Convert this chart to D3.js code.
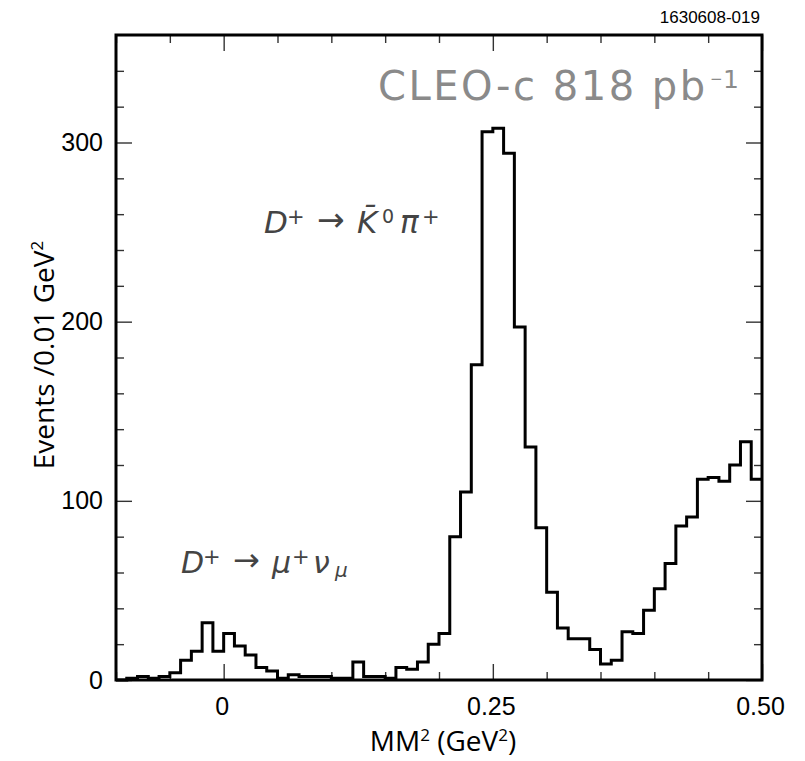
<!DOCTYPE html>
<html>
<head>
<meta charset="utf-8">
<script src="https://cdn.jsdelivr.net/npm/d3@7"></script>
<style>
  body { margin: 0; background: #fff; }
  svg { display: block; }
</style>
</head>
<body>
<script>
// Missing-mass-squared histogram, 0.01 GeV^2 bins starting at -0.10
const binStart = -0.10;
const binWidth = 0.01;
const counts = [
  0, 1, 2, 1, 2, 4, 11, 16, 32, 16,
  26, 19, 14, 7, 5, 1, 3, 2, 2, 2,
  1, 1, 10, 2, 2, 1, 7, 6, 10, 20,
  26, 80, 105, 176, 306, 308, 294, 197, 130, 85,
  49, 29, 23, 23, 17, 9, 11, 27, 26, 39,
  51, 65, 86, 91, 112, 113, 111, 120, 133, 112
];

const xDomain = [-0.10, 0.50];
const yDomain = [0, 360];
const xMajorTicks = [0, 0.25, 0.5];
const xMajorLabels = ["0", "0.25", "0.50"];
const xMinorTicks = [-0.10, -0.05, 0.05, 0.10, 0.15, 0.20, 0.30, 0.35, 0.40, 0.45];
const yMajorTicks = [0, 100, 200, 300];
const yMajorLabels = ["0", "100", "200", "300"];
const yMinorTicks = [20, 40, 60, 80, 120, 140, 160, 180, 220, 240, 260, 280, 320, 340];

const W = 805, H = 761;
const plot = { left: 116, right: 762, top: 35, bottom: 680 };

const svg = d3.select("body").append("svg")
  .attr("width", W).attr("height", H)
  .style("background", "#fff");

const x = d3.scaleLinear().domain(xDomain).range([plot.left, plot.right]);
const y = d3.scaleLinear().domain(yDomain).range([plot.bottom, plot.top]);

const tickColor = "#333";

function styleTicks(g) {
  g.select(".domain").remove();
  g.selectAll(".tick line").attr("stroke", tickColor).attr("stroke-width", 1.4);
  g.selectAll(".tick text").remove();
}

// Inward ticks on all four sides
const sides = [
  { gen: d3.axisBottom, scale: x, tr: `translate(0,${plot.bottom})` },
  { gen: d3.axisTop, scale: x, tr: `translate(0,${plot.top})` },
  { gen: d3.axisLeft, scale: y, tr: `translate(${plot.left},0)` },
  { gen: d3.axisRight, scale: y, tr: `translate(${plot.right},0)` }
];
sides.forEach((s, i) => {
  const isX = i < 2;
  const minors = isX ? xMinorTicks : yMinorTicks;
  const majors = isX ? xMajorTicks : yMajorTicks;
  svg.append("g").attr("transform", s.tr)
    .call(s.gen(s.scale).tickValues(minors).tickSize(-8).tickSizeOuter(0))
    .call(styleTicks);
  svg.append("g").attr("transform", s.tr)
    .call(s.gen(s.scale).tickValues(majors).tickSize(-16).tickSizeOuter(0))
    .call(styleTicks);
});

// Tick labels
const labelFont = "'Liberation Sans', Arial, sans-serif";
const xLab = svg.append("g").attr("transform", `translate(0,${plot.bottom})`)
  .call(d3.axisBottom(x).tickValues(xMajorTicks).tickSize(0).tickPadding(17)
    .tickFormat((d, i) => xMajorLabels[i]));
xLab.select(".domain").remove();
xLab.selectAll("text").attr("font-family", labelFont).attr("font-size", 25).attr("fill", "#000")
  .attr("dx", -2);

const yLab = svg.append("g").attr("transform", `translate(${plot.left},0)`)
  .call(d3.axisLeft(y).tickValues(yMajorTicks).tickSize(0).tickPadding(13)
    .tickFormat((d, i) => yMajorLabels[i]));
yLab.select(".domain").remove();
yLab.selectAll("text").attr("font-family", labelFont).attr("font-size", 25).attr("fill", "#000");

// Histogram outline
const pts = counts.map((c, i) => [binStart + i * binWidth, c]);
pts.push([binStart + counts.length * binWidth, counts[counts.length - 1]]);
const line = d3.line()
  .x(d => x(d[0])).y(d => y(d[1]))
  .curve(d3.curveStepAfter);
svg.append("path")
  .attr("d", line(pts))
  .attr("fill", "none")
  .attr("stroke", "#000")
  .attr("stroke-width", 3)
  .attr("stroke-linejoin", "miter");

// Frame
svg.append("rect")
  .attr("x", plot.left).attr("y", plot.top)
  .attr("width", plot.right - plot.left).attr("height", plot.bottom - plot.top)
  .attr("fill", "none").attr("stroke", "#000").attr("stroke-width", 3);

// Axis titles
const titleFont = "'Open Sans', 'Noto Sans', sans-serif";
const xt = svg.append("text")
  .attr("x", 443).attr("y", 751)
  .attr("text-anchor", "middle")
  .attr("font-family", titleFont).attr("font-size", 28).attr("fill", "#000");
xt.append("tspan").text("MM");
xt.append("tspan").attr("font-size", 17).attr("dy", -10).text("2");
xt.append("tspan").attr("dy", 10).text(" (GeV");
xt.append("tspan").attr("font-size", 17).attr("dy", -10).text("2");
xt.append("tspan").attr("dy", 10).text(")");

const yt = svg.append("text")
  .attr("transform", "translate(54,355) rotate(-90)")
  .attr("text-anchor", "middle")
  .attr("font-family", titleFont).attr("font-size", 28).attr("fill", "#000");
yt.append("tspan").text("Events /0.01 GeV");
yt.append("tspan").attr("font-size", 17).attr("dy", -11).text("2");

// Plot ID
svg.append("text")
  .attr("x", 760).attr("y", 23)
  .attr("text-anchor", "end")
  .attr("font-family", labelFont).attr("font-size", 17).attr("fill", "#000")
  .text("1630608-019");

// Luminosity label
const lumFont = "'DejaVu Sans', sans-serif";
const lum = svg.append("text")
  .attr("font-family", lumFont)
  .attr("fill", "#8a8a8a");
lum.append("tspan")
  .attr("x", 378).attr("y", 100)
  .attr("font-size", 40).attr("letter-spacing", 2.5)
  .text("CLEO-c 818 pb");
lum.append("tspan")
  .attr("x", 710).attr("y", 84)
  .attr("font-size", 15)
  .text("\u2212");
lum.append("tspan")
  .attr("x", 723).attr("y", 88)
  .attr("font-size", 25)
  .text("1");

// Decay-mode annotations
const annFont = "'DejaVu Sans', sans-serif";
const annColor = "#444";
function annotate(parts) {
  const t = svg.append("text").attr("font-family", annFont).attr("fill", annColor);
  parts.forEach(p => {
    t.append("tspan")
      .attr("x", p.x).attr("y", p.y)
      .attr("font-size", p.size)
      .attr("font-style", p.italic === false ? "normal" : "italic")
      .text(p.s);
  });
}
annotate([
  { s: "D", x: 264, y: 233, size: 31 },
  { s: "+", x: 287, y: 224, size: 21, italic: false },
  { s: "\u2192", x: 317, y: 231, size: 33, italic: false },
  { s: "K\u0304", x: 357, y: 233, size: 31 },
  { s: "0", x: 382, y: 223, size: 19, italic: false },
  { s: "\u03C0", x: 400, y: 233, size: 31 },
  { s: "+", x: 422, y: 224, size: 21, italic: false }
]);
annotate([
  { s: "D", x: 181, y: 573, size: 30 },
  { s: "+", x: 203, y: 564, size: 21, italic: false },
  { s: "\u2192", x: 233, y: 571, size: 32, italic: false },
  { s: "\u03BC", x: 272, y: 573, size: 30 },
  { s: "+", x: 292, y: 564, size: 21, italic: false },
  { s: "\u03BD", x: 313, y: 573, size: 30 },
  { s: "\u03BC", x: 335, y: 577, size: 20 }
]);
</script>
</body>
</html>
